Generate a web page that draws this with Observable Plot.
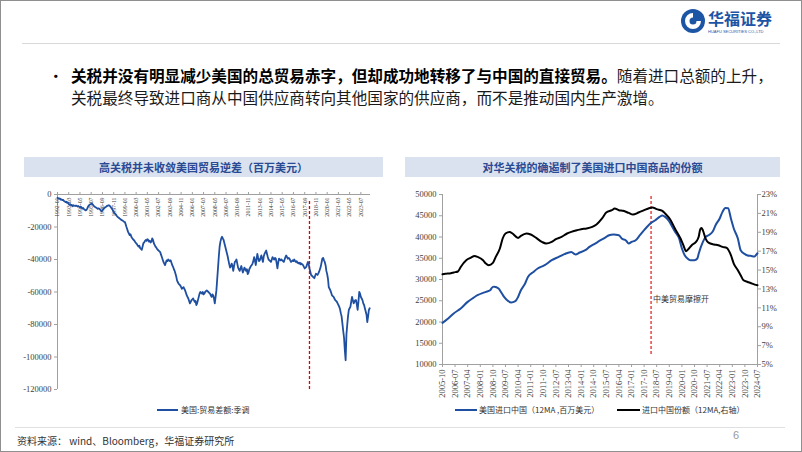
<!DOCTYPE html>
<html><head><meta charset="utf-8">
<script src="https://cdn.jsdelivr.net/npm/d3@7"></script>
<script src="https://cdn.jsdelivr.net/npm/@observablehq/plot@0.6"></script>
<style>
html,body{margin:0;padding:0;background:#fff;}
#page{position:relative;width:802px;height:452px;overflow:hidden;background:#fff;font-family:"Noto Sans CJK SC","Noto Sans",sans-serif;}
#border{position:absolute;left:0;top:0;width:800px;height:450px;border:1px solid #8f8f8f;pointer-events:none;}
.abs{position:absolute;white-space:nowrap;}
.band{position:absolute;background:#dbe2ef;color:#2a4a94;font-weight:bold;font-size:11px;text-align:center;line-height:20px;height:20px;}
.leg{position:absolute;font-size:8px;color:#333;line-height:10px;white-space:nowrap;}
.legline{position:absolute;height:2px;}
#left,#right{position:absolute;}
#left svg,#right svg{overflow:visible;}
</style></head>
<body><div id="page">
<div id="border"></div>
<svg class="abs" style="left:680px;top:8px" width="26" height="26" viewBox="0 0 26 26">
  <circle cx="13" cy="13" r="12" fill="#1d55a5"/>
  <path d="M13 5 A8 8 0 1 0 21 13 L16.5 13 A3.5 3.5 0 1 1 13 9.5 Z" fill="#fff"/>
</svg>
<div class="abs" style="left:708px;top:10px;font-size:16px;line-height:17px;font-weight:bold;color:#1d55a5;">华福证券</div>
<div class="abs" style="left:708px;top:29px;font-size:4px;line-height:5px;color:#1d55a5;font-family:'Liberation Sans';">HUAFU SECURITIES CO.,LTD</div>
<div class="abs" style="left:22px;top:43px;width:758px;height:1px;background:#d9d9d9;"></div>
<div class="abs" style="left:48px;top:64px;width:14px;font-size:15.6px;line-height:22px;color:#000;">•</div>
<div class="abs" style="left:71px;top:64px;font-size:15.6px;line-height:22px;color:#1a1a1a;"><b style="color:#000">关税并没有明显减少美国的总贸易赤字，但却成功地转移了与中国的直接贸易。</b>随着进口总额的上升，<br>关税最终导致进口商从中国供应商转向其他国家的供应商，而不是推动国内生产激增。</div>

<div class="band" style="left:24px;top:157px;width:359px;">高关税并未收敛美国贸易逆差（百万美元）</div>
<div class="band" style="left:405px;top:157px;width:375px;">对华关税的确遏制了美国进口中国商品的份额</div>

<div id="left" style="left:10px;top:185px;"></div>
<div id="right" style="left:390px;top:185px;"></div>

<div class="legline" style="left:157px;top:409px;width:21px;background:#1f4fa0;"></div>
<div class="leg" style="left:181px;top:405px;">美国:贸易差额:季调</div>
<div class="legline" style="left:455px;top:409px;width:22px;background:#1f4fa0;"></div>
<div class="leg" style="left:479px;top:405px;">美国进口中国（12MA ,百万美元）</div>
<div class="legline" style="left:617px;top:409px;width:23px;background:#000;"></div>
<div class="leg" style="left:642px;top:405px;">进口中国份额（12MA,右轴）</div>

<div class="abs" style="left:15px;top:427px;width:770px;height:1px;background:#e0e0e0;"></div>
<div class="abs" style="left:17px;top:433px;font-size:10px;color:#333;">资料来源： wind、Bloomberg，华福证券研究所</div>
<div class="abs" style="left:733px;top:429px;font-size:11px;color:#9a9a9a;font-family:'Liberation Sans';">6</div>
</div>
<script>
// ---------- data ----------
const tradeStart = "1992-01";
const tradeBalance = [
-2000,-2300,-2600,-2400,-3200,-3000,-3500,-3300,-4000,-4200,-4700,-4400,
-5200,-5000,-5900,-6300,-6000,-6800,-6500,-7200,-6600,-6900,-7100,-6800,
-7000,-7400,-7100,-7600,-7900,-7500,-8200,-8600,-8300,-9000,-9400,-9800,
-9500,-8700,-7600,-6800,-6300,-6000,-5800,-5700,-6200,-6900,-7300,-7800,
-8000,-8400,-8800,-8500,-8800,-9200,-9800,-10500,-9600,-9100,-8500,-8000,
-7800,-7300,-7000,-6800,-6600,-6900,-7500,-8200,-8800,-9800,-10800,-11500,
-11900,-12500,-13200,-13900,-14200,-14600,-15000,-15400,-15800,-16000,-16400,-16800,
-17000,-18500,-20000,-21500,-23000,-24000,-25000,-24500,-26000,-26800,-27500,-28000,
-28500,-29500,-30000,-30500,-31500,-32000,-31500,-33000,-33500,-34000,-32000,-30000,
-29500,-28500,-28000,-28500,-27500,-28000,-29000,-28500,-29500,-29000,-27000,-28000,
-30000,-31000,-32000,-32500,-33500,-34000,-34500,-35000,-35500,-37000,-38500,-40000,
-41500,-42500,-43500,-42000,-40500,-41000,-40000,-40500,-41000,-40500,-42000,-43500,
-44500,-46000,-47000,-48800,-50500,-53000,-54000,-55000,-55500,-56000,-57000,-58000,
-57500,-57000,-58000,-59000,-60500,-62000,-63000,-64000,-65500,-67000,-66000,-65000,
-64500,-64000,-65000,-66000,-65500,-68000,-67000,-65000,-63000,-61000,-60000,-60500,
-61000,-60000,-61500,-61000,-60000,-59500,-59000,-59500,-60000,-60500,-61000,-62000,
-63000,-61500,-62000,-64000,-67000,-63000,-59000,-52000,-45000,-38000,-32000,-29000,
-27000,-26000,-27000,-28000,-30000,-32000,-34000,-36000,-38000,-40500,-43000,-45000,
-44000,-42500,-44000,-47000,-44000,-41500,-41000,-40000,-42500,-45000,-46000,-47000,
-45500,-44000,-46000,-48000,-46500,-45000,-46000,-47000,-46000,-49000,-48000,-46000,
-45000,-44000,-43500,-42500,-41000,-38500,-40500,-43500,-40000,-36500,-39000,-41000,
-40500,-39000,-37500,-39500,-41500,-38000,-36500,-35500,-34500,-36500,-38500,-40000,
-40500,-41000,-41500,-40000,-38500,-39500,-40000,-39000,-39500,-42000,-45500,-42000,
-39500,-40000,-40500,-40000,-40500,-41000,-41500,-40000,-38500,-37500,-38500,-39500,
-39000,-39500,-40500,-41500,-41000,-40500,-41000,-40000,-41000,-41500,-41000,-42000,
-42000,-42500,-42000,-43000,-42500,-43000,-43500,-44500,-45500,-45000,-44500,-43000,
-41500,-43000,-45500,-47500,-49500,-50000,-50500,-51000,-51500,-50000,-48800,-49000,
-49500,-48500,-47500,-46000,-44500,-42000,-39500,-39000,-40500,-41500,-43500,-47000,
-49000,-52000,-57000,-58000,-59000,-60500,-62000,-62500,-63000,-64000,-65000,-65500,
-66000,-67000,-68000,-69000,-70500,-73000,-75000,-79500,-84000,-88000,-96000,-102000,
-86000,-80000,-75000,-71000,-70000,-69000,-66000,-63000,-65000,-67000,-66000,-65000,
-65000,-68000,-71000,-66000,-60000,-61000,-63000,-64000,-65000,-67000,-68000,-70000,
-72000,-74000,-78500,-75000,-71000,-70000
];
const leftTickLabels = ["1992-01","1993-03","1994-05","1995-07","1996-09","1997-11","1999-01","2000-03","2001-05","2002-07","2003-09","2004-11","2006-01","2007-03","2008-05","2009-07","2010-09","2011-11","2013-01","2014-03","2015-05","2016-07","2017-09","2018-11","2020-01","2021-03","2022-05","2023-07"];
const leftYTicks = [0,-20000,-40000,-60000,-80000,-100000,-120000];

const importDates = ["2005-10","2006-02","2006-06","2006-11","2007-04","2007-08","2007-11","2008-03","2008-05","2008-08","2008-10","2008-11","2009-02","2009-04","2009-06","2009-09","2009-11","2010-02","2010-04","2010-06","2010-09","2010-11","2011-03","2011-06","2011-11","2012-04","2012-09","2013-01","2013-06","2013-09","2013-12","2014-04","2014-07","2014-11","2015-03","2015-06","2015-09","2015-12","2016-04","2016-06","2016-09","2016-11","2017-01","2017-04","2017-07","2017-11","2018-03","2018-06","2018-09","2018-11","2019-01","2019-04","2019-06","2019-08","2019-11","2020-01","2020-03","2020-05","2020-07","2020-10","2020-12","2021-01","2021-04","2021-06","2021-08","2021-11","2022-01","2022-04","2022-06","2022-08","2022-10","2022-12","2023-02","2023-05","2023-07","2023-10","2023-12","2024-02","2024-05","2024-06","2024-07"];
const importValues = [19800,20820,22000,23180,24730,25670,26300,26850,27080,27480,28260,28300,27880,26940,25900,24900,24590,24900,25900,27480,29060,30610,31790,32590,33370,34550,35320,35960,36500,35900,36350,36890,37670,38460,39240,39800,40420,40590,40420,39640,39180,38460,38840,39240,40420,42000,43320,43950,44730,45060,44730,43640,42460,41290,39640,37300,35730,34940,34550,34550,34940,36130,38840,40020,40420,41290,42780,44360,45910,46850,46770,44360,42000,39640,36890,35960,35650,35570,35400,35810,36180];

const shareDates = ["2005-10","2005-12","2006-04","2006-06","2006-09","2006-11","2007-03","2007-06","2007-09","2007-11","2008-03","2008-05","2008-07","2008-10","2008-12","2009-03","2009-05","2009-07","2009-10","2009-12","2010-04","2010-06","2010-10","2011-01","2011-05","2011-09","2011-12","2012-04","2012-07","2012-11","2013-03","2013-06","2013-10","2014-01","2014-05","2014-09","2014-12","2015-04","2015-07","2015-11","2016-01","2016-04","2016-07","2016-11","2017-02","2017-06","2017-10","2018-01","2018-04","2018-07","2018-11","2019-01","2019-05","2019-08","2019-12","2020-02","2020-04","2020-06","2020-08","2020-11","2021-01","2021-02","2021-03","2021-04","2021-06","2021-08","2021-12","2022-03","2022-06","2022-09","2022-12","2023-02","2023-05","2023-07","2023-09","2023-12","2024-02","2024-05","2024-07"];
const shareValues = [14.55,14.6,14.67,14.75,14.85,15.33,16.04,16.29,16.5,16.4,16.04,15.69,15.52,15.76,16.39,17.28,18.34,18.87,19.04,18.87,18.4,18.62,18.87,18.76,18.4,17.98,17.81,17.98,18.27,18.51,18.87,19.04,19.22,19.33,19.4,19.57,19.82,20.46,21.09,21.34,21.52,21.34,21.27,21.05,20.88,21.09,21.34,21.52,21.62,21.45,21.27,20.99,20.28,19.4,18.34,17.63,17.0,17.28,17.63,17.98,18.55,19.3,19.45,19.2,18.3,17.9,17.71,17.63,17.45,17.34,16.57,15.69,14.98,14.45,13.92,13.74,13.63,13.46,13.39];

const rightTickLabels = ["2005-10","2006-07","2007-04","2008-01","2008-10","2009-07","2010-04","2011-01","2011-10","2012-07","2013-04","2014-01","2014-10","2015-07","2016-04","2017-01","2017-10","2018-07","2019-04","2020-01","2020-10","2021-07","2022-04","2023-01","2023-10","2024-07"];
const rightYTicks = [10000,15000,20000,25000,30000,35000,40000,45000,50000];
const shareTicks = [5,7,9,11,13,15,17,19,21,23];
const tradeWarStart = "2018-03";
const annotation = "中美贸易摩擦开";

// ---------- helpers ----------
const pm = s => { const [y, m] = s.split("-").map(Number); return new Date(Date.UTC(y, m - 1, 1)); };
const t0 = pm(tradeStart);
const leftData = tradeBalance.map((v, i) => ({date: d3.utcMonth.offset(t0, i), value: v}));
const importData = importDates.map((d, i) => ({date: pm(d), value: importValues[i]}));
const shareMin = 5, shareMax = 23, leftMin = 10000, leftMax = 50000;
const toLeft = s => leftMin + (s - shareMin) / (shareMax - shareMin) * (leftMax - leftMin);
const fromLeft = v => shareMin + (v - leftMin) / (leftMax - leftMin) * (shareMax - shareMin);
const shareData = shareDates.map((d, i) => ({date: pm(d), value: toLeft(shareValues[i])}));
const fmtYM = d3.utcFormat("%Y-%m");
const axisColor = "#a0a0a0";
const serif = "'Liberation Serif','Times New Roman',serif";
const cjk = "'Noto Sans CJK SC',sans-serif";

// ---------- left chart ----------
const leftTicks = leftTickLabels.map(pm);
const leftPlot = Plot.plot({
  width: 370, height: 215,
  marginLeft: 47, marginRight: 10, marginTop: 9, marginBottom: 11,
  style: {fontFamily: serif, fontSize: "8.5px", color: "#404040", background: "transparent", overflow: "visible"},
  x: {type: "utc", domain: [t0, pm("2024-07")]},
  y: {domain: [-120000, 0]},
  marks: [
    Plot.ruleY([0], {stroke: axisColor}),
    Plot.ruleX([t0], {stroke: axisColor}),
    Plot.axisX(leftTicks, {anchor: "top", tickSize: 3, tickFormat: () => "", stroke: axisColor, label: null}),
    Plot.text(leftTicks, {x: d => d, y: 0, text: d => fmtYM(d), rotate: -90, textAnchor: "end", dy: 3, fontSize: 5.8, fill: "#404040", fontFamily: serif}),
    Plot.axisY(leftYTicks, {anchor: "left", tickSize: 3, tickPadding: 3, tickFormat: d => String(d), stroke: axisColor, label: null}),
    Plot.line(leftData, {x: "date", y: "value", stroke: "#1f4fa0", strokeWidth: 1.8}),
    Plot.ruleX([pm(tradeWarStart)], {y1: -120000, y2: 0, stroke: "#e00000", strokeWidth: 1.3, strokeDasharray: "3,2", insetBottom: -7})
  ]
});
document.getElementById("left").appendChild(leftPlot);

// ---------- right chart ----------
const rightTicks = rightTickLabels.map(pm);
const rightPlot = Plot.plot({
  width: 410, height: 215,
  marginLeft: 52, marginRight: 43, marginTop: 9, marginBottom: 36,
  style: {fontFamily: serif, fontSize: "8.5px", color: "#404040", background: "transparent", overflow: "visible"},
  x: {type: "utc", domain: [pm("2005-10"), pm("2024-07")]},
  y: {domain: [leftMin, leftMax]},
  marks: [
    Plot.ruleX([pm(tradeWarStart)], {y1: leftMin, y2: leftMax, stroke: "#e00000", strokeWidth: 1.1, strokeDasharray: "3,2", insetTop: -10}),
    Plot.text([annotation], {x: pm(tradeWarStart), y: toLeft(11.9), text: d => d, textAnchor: "start", dx: 2, fontSize: 8, fill: "#333", fontFamily: cjk}),
    Plot.ruleY([leftMin], {stroke: axisColor}),
    Plot.ruleX([pm("2005-10")], {stroke: axisColor}),
    Plot.ruleX([pm("2024-07")], {stroke: axisColor}),
    Plot.axisX(rightTicks, {anchor: "bottom", tickSize: 3, tickPadding: 2, tickRotate: -90, tickFormat: d => fmtYM(d), stroke: axisColor, label: null}),
    Plot.axisY(rightYTicks, {anchor: "left", tickSize: 3, tickPadding: 3, tickFormat: d => String(d), stroke: axisColor, label: null}),
    Plot.axisY(shareTicks.map(toLeft), {anchor: "right", tickSize: 3, tickPadding: 1, tickFormat: d => Math.round(fromLeft(d)) + "%", stroke: axisColor, label: null}),
    Plot.line(importData, {x: "date", y: "value", stroke: "#1f4fa0", strokeWidth: 2, curve: "monotone-x"}),
    Plot.line(shareData, {x: "date", y: "value", stroke: "#000", strokeWidth: 2, curve: "monotone-x"})
  ]
});
document.getElementById("right").appendChild(rightPlot);
</script>
</body></html>
